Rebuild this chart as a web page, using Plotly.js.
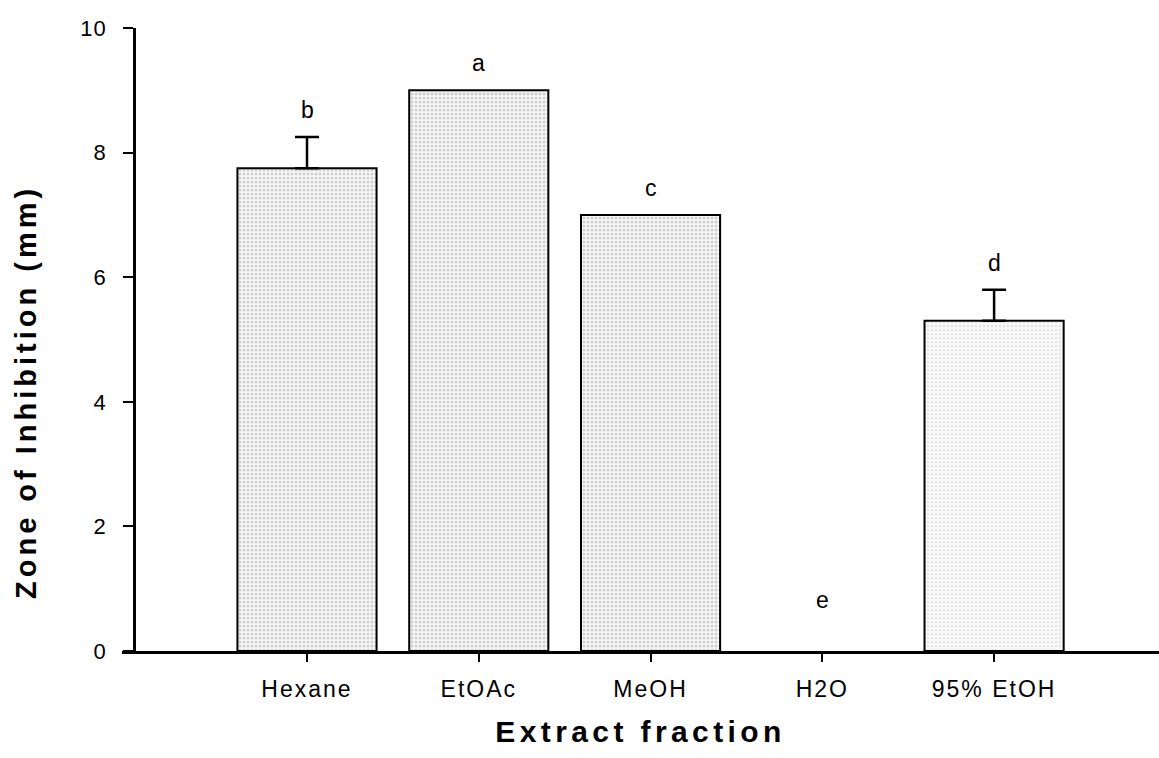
<!DOCTYPE html>
<html>
<head>
<meta charset="utf-8">
<script src="https://cdn.plot.ly/plotly-3.0.1.min.js"></script>
<style>
  html, body { margin: 0; padding: 0; background: #fff; }
  #chart { width: 1159px; height: 758px; }
  .xtick text { letter-spacing: 2px; }
  .ytick text { letter-spacing: 1px; }
  .xtitle { letter-spacing: 4.4px; }
</style>
</head>
<body>
<div id="chart"></div>
<script>
// ---- data ----
const categories = ["Hexane", "EtOAc", "MeOH", "H2O", "95% EtOH"];
const zoneValues = [7.75, 9.0, 7.0, 0, 5.3];
const zoneErrors = [0.5, 0, 0, 0, 0.5];
const groupLetters = ["b", "a", "c", "e", "d"];
const yTickValues = [0, 2, 4, 6, 8, 10];
const yTickLabels = ["0", "2", "4", "6", "8", "10"];
const xAxisTitle = "Extract fraction";
const yAxisTitle = "Zone of Inhibition (mm)";
const patternDensity = [0.45, 0.45, 0.45, 0.45, 0.15];

const FONT = "Liberation Sans, Arial, Helvetica, sans-serif";
const xIdx = categories.map((_, i) => i);

const bars = {
  type: "bar",
  x: xIdx,
  y: zoneValues,
  width: 0.81,
  marker: {
    color: "#f5f5f5",
    line: { color: "#000", width: zoneValues.map(v => v > 0 ? 2 : 0) },
    pattern: {
      shape: ".",
      fgcolor: "#a8a8a8",
      bgcolor: "#f8f8f8",
      size: 4,
      solidity: patternDensity,
      fillmode: "overlay"
    }
  },
  hoverinfo: "skip",
  showlegend: false
};

// upward error bars only where an error exists
const errIdx = xIdx.filter(i => zoneErrors[i] > 0);
const errTrace = {
  type: "scatter",
  mode: "markers",
  x: errIdx.map(i => xIdx[i]),
  y: errIdx.map(i => zoneValues[i]),
  marker: { size: 1, color: "rgba(0,0,0,0)" },
  error_y: {
    type: "data",
    symmetric: false,
    array: errIdx.map(i => zoneErrors[i]),
    arrayminus: errIdx.map(() => 0),
    color: "#000",
    thickness: 2.5,
    width: 12,
    visible: true
  },
  hoverinfo: "skip",
  showlegend: false
};

const letterAnns = groupLetters.map((t, i) => ({
  x: xIdx[i],
  y: zoneValues[i] + zoneErrors[i],
  xref: "x", yref: "y",
  text: t,
  showarrow: false,
  yanchor: "middle",
  yshift: zoneValues[i] > 0 ? 27 : 51,
  font: { family: FONT, size: 23, color: "#000" }
}));

const yTitleAnn = {
  xref: "paper", yref: "paper",
  x: -0.0926, y: 0.4157,
  xanchor: "center", yanchor: "middle",
  text: yAxisTitle,
  textangle: -90,
  showarrow: false,
  font: { family: FONT, size: 29, color: "#000", weight: "bold" }
};

const layout = {
  width: 1159,
  height: 758,
  margin: { l: 122, r: 0, t: 28, b: 107, pad: 0 },
  paper_bgcolor: "#fff",
  plot_bgcolor: "#fff",
  font: { family: FONT, color: "#000" },
  xaxis: {
    range: [-1.077, 4.96],
    tickvals: xIdx,
    ticktext: categories,
    showgrid: false,
    zeroline: false,
    showline: true,
    linecolor: "#000",
    linewidth: 3,
    ticks: "outside",
    ticklen: 8,
    tickwidth: 2,
    tickcolor: "#000",
    ticklabelstandoff: 7,
    tickfont: { family: FONT, size: 23, color: "#000" },
    title: {
      text: xAxisTitle,
      font: { family: FONT, size: 30, color: "#000", weight: "bold" },
      standoff: 21
    },
    fixedrange: true
  },
  yaxis: {
    range: [0, 10],
    anchor: "free",
    position: 0.0116,
    tickvals: yTickValues,
    ticktext: yTickLabels,
    showgrid: false,
    zeroline: false,
    showline: true,
    linecolor: "#000",
    linewidth: 3,
    ticks: "outside",
    ticklen: 10,
    tickwidth: 2,
    tickcolor: "#000",
    ticklabelstandoff: 12,
    tickfont: { family: FONT, size: 22, color: "#000" },
    fixedrange: true
  },
  annotations: letterAnns.concat([yTitleAnn]),
  bargap: 0
};

Plotly.newPlot("chart", [bars, errTrace], layout, { staticPlot: true, displayModeBar: false }).then(() => {
  document.querySelectorAll(".annotation-text").forEach(el => {
    if (el.textContent === yAxisTitle) el.style.letterSpacing = "4px";
  });
});
</script>
</body>
</html>
